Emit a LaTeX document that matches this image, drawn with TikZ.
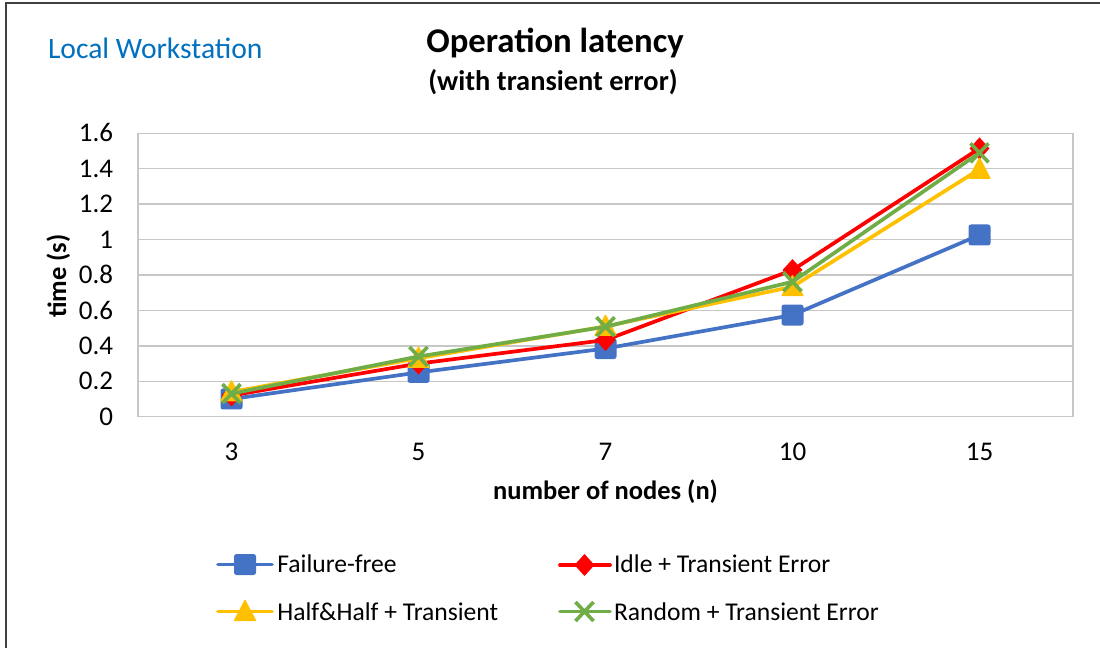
\documentclass[tikz,border=0pt]{standalone}
\usepackage{fontspec}
\setmainfont{Carlito}
\begin{document}
\begin{tikzpicture}[x=1pt,y=-1pt,
  every node/.style={inner sep=0pt,outer sep=0pt},
  ticklbl/.style={font=\fontsize{27}{31}\selectfont},
  axtitle/.style={font=\fontsize{26.5}{30}\selectfont\bfseries},
  legtext/.style={font=\fontsize{25.6}{30}\selectfont,anchor=base west},
  grid line/.style={draw=black!22,line width=1.4pt},
  series/.style={line width=3.7pt,line join=round,line cap=round},
  sqmark/.pic={\fill[rounded corners=2.5pt] (-11,-10.5) rectangle (11,10.5);},
  diamark/.pic={\fill (0,-11) -- (10,0) -- (0,11) -- (-10,0) -- cycle;},
  trimark/.pic={\fill[rounded corners=1pt] (0,-12.5) -- (11.5,9.5) -- (-11.5,9.5) -- cycle;},
  xmark/.pic={\draw[line width=3.6pt] (-9,-9.5) -- (9,9.5) (-9,9.5) -- (9,-9.5);}
]
\definecolor{ffblue}{RGB}{68,114,196}
\definecolor{idred}{RGB}{255,0,0}
\definecolor{hhyellow}{RGB}{255,192,0}
\definecolor{rdgreen}{RGB}{112,173,71}
\definecolor{headblue}{RGB}{0,112,192}
\definecolor{framegray}{RGB}{64,64,64}

\useasboundingbox (0,0) rectangle (1100,648);
\fill[white] (0,0) rectangle (1100,648);

% chart area border (left and top edges)
\draw[framegray,line width=1.8pt] (6,648) -- (6,3) -- (1100,3);

% headings
\node[anchor=base west,font=\fontsize{29.6}{34}\selectfont,text=headblue] (loc) at (48,58.3) {Local Workstation};
\node[anchor=base,font=\fontsize{34.7}{40}\selectfont\bfseries] (ttl) at (555,52.5) {Operation latency};
\node[anchor=base,font=\fontsize{28.4}{33}\selectfont\bfseries] (sub) at (553,90.5) {(with transient error)};

% plot area: y(v) = 416.7 - 177.1 v
\foreach \v in {0.2,0.4,...,1.41}
  \draw[grid line] (138,{416.7-177.1*\v}) -- (1073,{416.7-177.1*\v});
\draw[grid line] (138,133.3) rectangle (1073,416.7);

% y tick labels
\foreach \v/\t in {0/0,0.2/0.2,0.4/0.4,0.6/0.6,0.8/0.8,1/1,1.2/1.2,1.4/1.4,1.6/1.6}
  \node[ticklbl,anchor=base east] at (113,{416.7-177.1*\v+8.6}) {\t};

% x tick labels
\foreach \x/\t in {231.5/3,418.5/5,605.5/7,792.5/10,979.5/15}
  \node[ticklbl,anchor=base] at (\x,460) {\t};

% axis titles
\node[axtitle,anchor=base] (xt) at (605.5,499.3) {number of nodes (n)};
\node[axtitle,anchor=base,rotate=90] (yt) at (66,276) {time (s)};

% data points
\foreach \s/\a/\b/\c/\d/\e in {
  b/0.10/0.25/0.385/0.574/1.026,
  r/0.12/0.30/0.433/0.828/1.515,
  y/0.14/0.33/0.51/0.734/1.397,
  g/0.13/0.34/0.508/0.762/1.49}{
  \coordinate (\s1) at (231.5,{416.7-177.1*\a});
  \coordinate (\s2) at (418.5,{416.7-177.1*\b});
  \coordinate (\s3) at (605.5,{416.7-177.1*\c});
  \coordinate (\s4) at (792.5,{416.7-177.1*\d});
  \coordinate (\s5) at (979.5,{416.7-177.1*\e});
}

% Failure-free
\draw[series,ffblue] (b1) -- (b2) -- (b3) -- (b4) -- (b5);
\foreach \p in {b1,b2,b3,b4,b5} \pic[ffblue] at (\p) {sqmark};
% Idle + Transient Error
\draw[series,idred] (r1) -- (r2) -- (r3) -- (r4) -- (r5);
\foreach \p in {r1,r2,r3,r4,r5} \pic[idred] at (\p) {diamark};
% Half&Half + Transient
\draw[series,hhyellow] (y1) -- (y2) -- (y3) -- (y4) -- (y5);
\foreach \p in {y1,y2,y3,y4,y5} \pic[hhyellow] at (\p) {trimark};
% Random + Transient Error
\draw[series,rdgreen] (g1) -- (g2) -- (g3) -- (g4) -- (g5);
\foreach \p in {g1,g2,g3,g4,g5} \pic[rdgreen] at (\p) {xmark};

% legend
\coordinate (lb0) at (218,564.5);  \coordinate (lb1) at (272,564.5);
\coordinate (lr0) at (560,565);    \coordinate (lr1) at (610,565);
\coordinate (ly0) at (218,611.5);  \coordinate (ly1) at (272,611.5);
\coordinate (lg0) at (560,611.5);  \coordinate (lg1) at (610,611.5);

\draw[series,ffblue] (lb0) -- (lb1);
\pic[ffblue] at (245,564.5) {sqmark};
\node[legtext] (lbt) at (277.3,572.7) {Failure-free};

\draw[series,idred] (lr0) -- (lr1);
\pic[idred] at (584.5,565) {diamark};
\node[legtext] (lrt) at (614,572.7) {Idle + Transient Error};

\draw[series,hhyellow] (ly0) -- (ly1);
\pic[hhyellow] at (245,611.5) {trimark};
\node[legtext] (lyt) at (277.3,620.7) {Half\&Half + Transient};

\draw[series,rdgreen] (lg0) -- (lg1);
\pic[rdgreen] at (584.5,611.5) {xmark};
\node[legtext] (lgt) at (614,620.7) {Random + Transient Error};
\end{tikzpicture}
\end{document}
